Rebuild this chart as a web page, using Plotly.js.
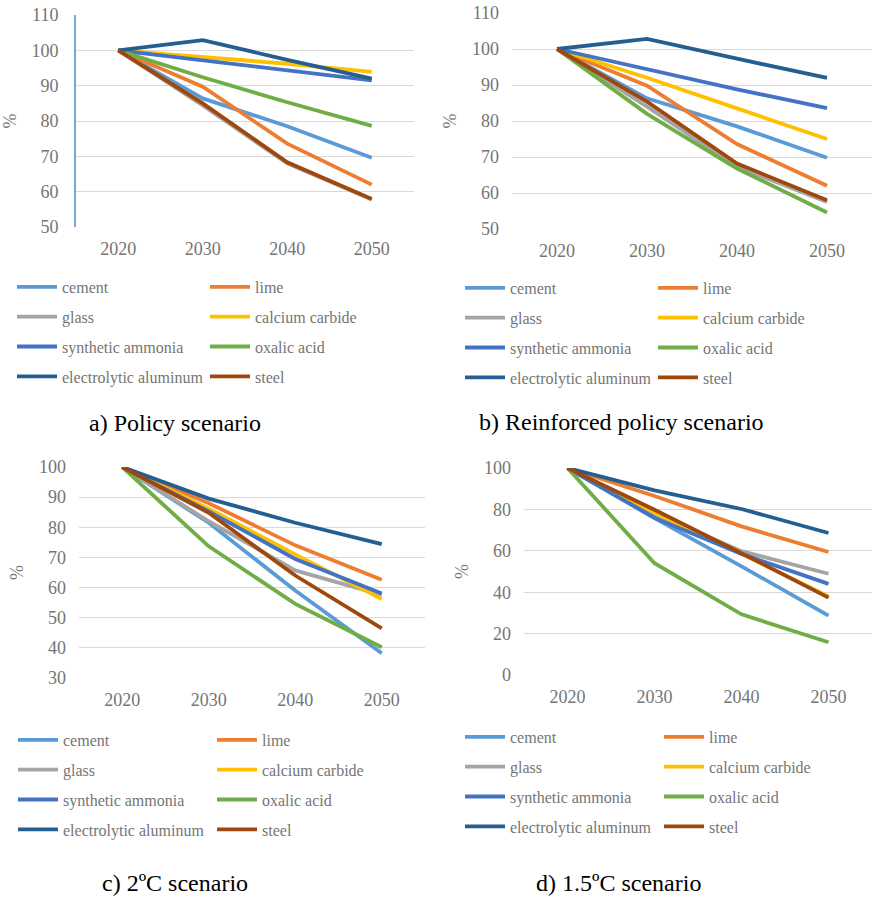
<!DOCTYPE html>
<html>
<head>
<meta charset="utf-8">
<script src="https://cdn.plot.ly/plotly-3.0.1.min.js"></script>
<style>html,body{margin:0;padding:0;background:#fff;}#chart{width:874px;height:898px;}</style>
</head>
<body>
<div id="chart"></div>
<script>
// Categories and series
const years = ['2020', '2030', '2040', '2050'];
const seriesNames = ['cement', 'lime', 'glass', 'calcium carbide', 'synthetic ammonia', 'oxalic acid', 'electrolytic aluminum', 'steel'];
const seriesColors = ['#5B9BD5', '#ED7D31', '#A5A5A5', '#FFC000', '#4472C4', '#70AD47', '#255E91', '#9E480E'];

// a) Policy scenario (%, rows follow seriesNames)
const policyValues = [
  [100, 86.4, 78.5, 69.6],
  [100, 89.7, 73.6, 62.0],
  [100, 84.4, 68.0, 57.8],
  [100, 98.2, 96.2, 93.9],
  [100, 97.2, 94.3, 91.5],
  [100, 92.4, 85.3, 78.6],
  [100, 102.9, 97.3, 92.0],
  [100, 85.0, 68.3, 57.9]
];
// b) Reinforced policy scenario
const reinforcedValues = [
  [100, 86.3, 78.5, 69.8],
  [100, 89.8, 73.6, 62.0],
  [100, 84.0, 67.3, 57.5],
  [100, 92.0, 83.5, 75.0],
  [100, 94.5, 88.8, 83.6],
  [100, 82.0, 66.8, 54.6],
  [100, 102.8, 97.3, 92.0],
  [100, 85.4, 68.2, 58.0]
];
// c) 2ºC scenario
const twoDegreeValues = [
  [100, 81.5, 59.0, 38.2],
  [100, 88.0, 74.0, 62.6],
  [100, 82.0, 65.7, 57.6],
  [100, 86.2, 71.0, 56.2],
  [100, 85.3, 69.5, 58.0],
  [100, 73.7, 54.6, 40.2],
  [100, 89.5, 81.5, 74.4],
  [100, 84.8, 64.0, 46.5]
];
// d) 1.5ºC scenario
const onePointFiveValues = [
  [100, 75.8, 52.5, 28.7],
  [100, 86.5, 71.8, 59.4],
  [100, 78.0, 59.8, 48.9],
  [100, 78.5, 58.5, 38.0],
  [100, 76.0, 58.5, 44.0],
  [100, 54.0, 29.3, 15.8],
  [100, 89.2, 80.2, 68.6],
  [100, 79.8, 58.8, 37.4]
];
const panelCaptions = ['a) Policy scenario', 'b) Reinforced policy scenario', 'c) 2ºC scenario', 'd) 1.5ºC scenario'];
const yRanges = [[50, 110], [50, 110], [30, 100], [0, 100]];
const yTickSteps = [10, 10, 10, 20];

const W = 874, H = 898;
const px = v => v / W;
const py = v => 1 - v / H;
const serif = '"Liberation Serif", serif';
const gray = '#757575';

// layout geometry (pixels)
const panels = [
  {left: 76, right: 414, top: 15, bottom: 227, legendCols: [12, 205], legendTop: 270, capX: 175, capY: 423},
  {left: 512, right: 872, top: 13, bottom: 229, legendCols: [460, 653], legendTop: 271, capX: 621, capY: 422},
  {left: 79, right: 425, top: 467, bottom: 678, legendCols: [13, 212], legendTop: 723, capX: 175, capY: 883},
  {left: 524, right: 872, top: 468, bottom: 675, legendCols: [460, 659], legendTop: 720, capX: 618, capY: 883}
];
const allValues = [policyValues, reinforcedValues, twoDegreeValues, onePointFiveValues];

const traces = [];
const layout = {
  width: W, height: H,
  margin: {l: 0, r: 0, t: 0, b: 0},
  paper_bgcolor: '#fff', plot_bgcolor: '#fff',
  font: {family: serif, color: gray},
  annotations: []
};

panels.forEach((p, i) => {
  const n = i === 0 ? '' : String(i + 1);
  const legLeft = 'legend' + (i === 0 ? '' : String(2 * i + 1));
  const legRight = 'legend' + String(2 * i + 2);
  allValues[i].forEach((vals, s) => {
    traces.push({
      type: 'scatter', mode: 'lines',
      x: years, y: vals,
      name: seriesNames[s],
      xaxis: 'x' + n, yaxis: 'y' + n,
      line: {color: seriesColors[s], width: 3.8},
      legend: (s % 2 === 0) ? legLeft : legRight,
      legendgroup: 'p' + i + 's' + s,
      hoverinfo: 'skip'
    });
  });
  layout['xaxis' + n] = {
    type: 'category', domain: [px(p.left), px(p.right)], anchor: 'y' + n,
    range: [-0.5, 3.5], showgrid: false, zeroline: false, showline: false,
    ticks: '', tickfont: {size: 18, color: gray, family: serif},
    ticklabelstandoff: 9, fixedrange: true
  };
  layout['yaxis' + n] = {
    domain: [py(p.bottom), py(p.top)], anchor: 'x' + n,
    range: yRanges[i], dtick: yTickSteps[i], tick0: 0,
    showgrid: true, gridcolor: '#d9d9d9', gridwidth: 1, zeroline: false,
    showline: i === 0, linecolor: '#7aa7dc', linewidth: 2,
    ticks: '', tickfont: {size: 18, color: gray, family: serif},
    ticklabelstandoff: 12,
    title: {text: '%', font: {size: 18, color: gray, family: serif}, standoff: 10},
    fixedrange: true
  };
  [legLeft, legRight].forEach((lk, c) => {
    layout[lk] = {
      x: px(p.legendCols[c]), xanchor: 'left',
      y: py(p.legendTop), yanchor: 'top',
      orientation: 'v', bgcolor: 'rgba(0,0,0,0)', borderwidth: 0,
      font: {size: 16, color: gray, family: serif},
      tracegroupgap: 6, itemwidth: 40, itemclick: false, itemdoubleclick: false
    };
  });
  layout.annotations.push({
    text: panelCaptions[i], xref: 'paper', yref: 'paper',
    x: px(p.capX), y: py(p.capY), xanchor: 'center', yanchor: 'middle',
    showarrow: false, font: {size: 24, color: '#000', family: serif}
  });
});

Plotly.newPlot('chart', traces, layout, {displayModeBar: false, staticPlot: true});
</script>
</body>
</html>
